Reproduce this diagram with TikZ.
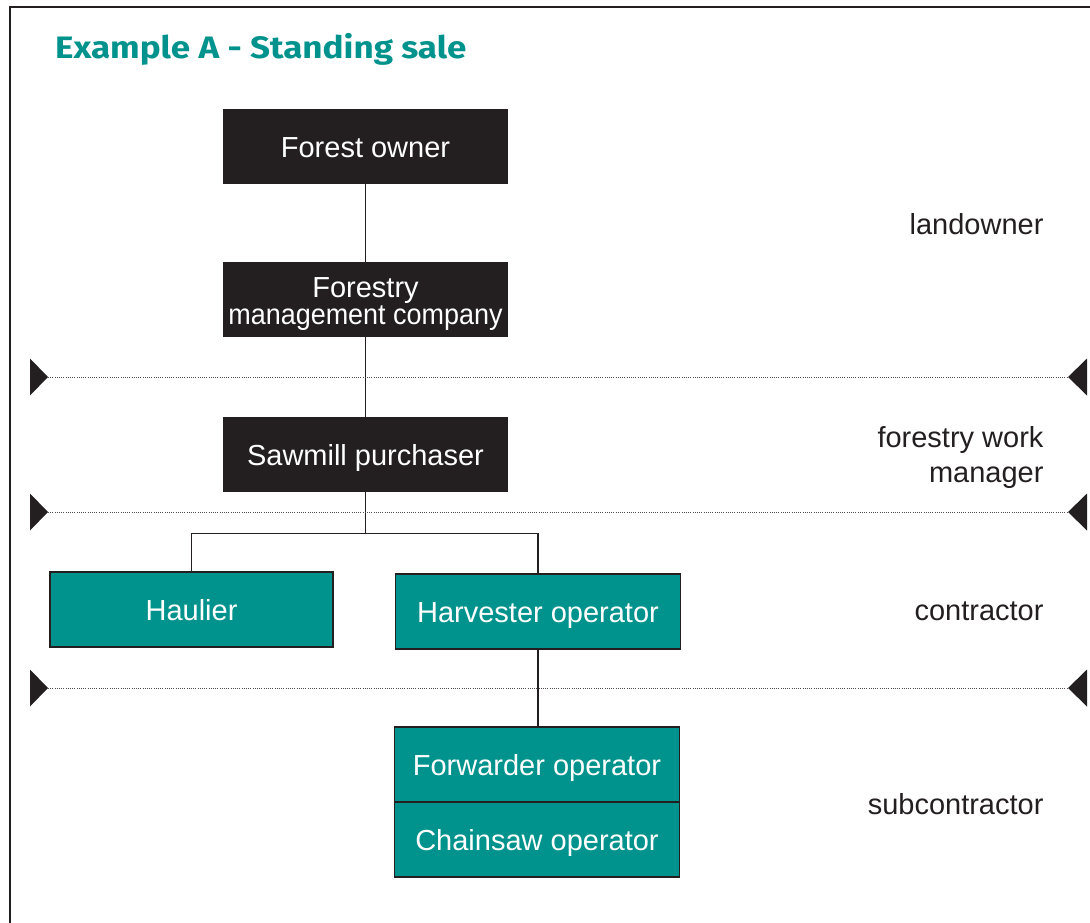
\documentclass[tikz,border=0pt]{standalone}
\usepackage{fontspec}
\setmainfont{Liberation Sans}
\newfontfamily\titlefont{Fira Sans}[FakeStretch=1.13]
\usepackage{graphicx}
\usetikzlibrary{positioning}
\definecolor{forestteal}{RGB}{0,146,140}
\definecolor{boxblack}{RGB}{35,31,32}

\begin{document}
\begin{tikzpicture}[x=1pt, y=-1pt, node distance=150pt, on grid,
    darkbox/.style={fill=boxblack, text=white, minimum width=285pt, minimum height=75pt,
        inner sep=0pt, align=center, text height=21pt, text depth=0pt,
        font=\fontsize{29}{27}\selectfont},
    tealbox/.style={darkbox, fill=forestteal, draw=boxblack, line width=1.3pt},
    tier/.style={anchor=east, align=right, text=boxblack, font=\fontsize{29}{35}\selectfont},
    link/.style={draw=boxblack, line width=1.2pt},
    divider/.style={draw=boxblack!80, line width=0.9pt, dash pattern=on 0.9pt off 1.3pt}]

    \clip (0,0) rectangle (1090,922);

    % FRAME
    \draw[boxblack, line width=2.6pt] (10,930) -- (10,7) -- (1100,7);

    % TITLE
    \node[anchor=base west, inner sep=0pt, text=forestteal,
        font=\titlefont\bfseries\fontsize{31}{30}\selectfont] (title) at (55,58.3) {Example A - Standing sale};

    % BOXES
    \node[darkbox] (owner) at (365.5,146.5) {Forest owner};
    \node[darkbox, text height={}, text depth={}] (mgmt) [below=153pt of owner]
        {\rule{0pt}{29pt}Forestry\\\scalebox{0.93}[1]{management company}};
    \node[darkbox] (sawmill) [below=155pt of mgmt] {Sawmill purchaser};
    \node[tealbox, minimum width=283pt] (haulier) [below left=155pt and 174pt of sawmill] {Haulier};
    \node[tealbox] (harvester) [below right=157pt and 172.5pt of sawmill] {Harvester operator};
    \node[tealbox] (forwarder) [below=153pt of harvester, xshift=-1pt] {Forwarder operator};
    \node[tealbox] (chainsaw) [below=75pt of forwarder] {Chainsaw operator};

    % LINKS
    \path[link] (owner) -- (mgmt) (mgmt) -- (sawmill);
    \coordinate (branch) at ([yshift=-41pt]sawmill.south);
    \draw[link] (sawmill.south) -- (branch);
    \draw[link] (branch) -| (haulier.north);
    \draw[link] (branch) -| (harvester.north);
    \draw[link] (harvester.south) -- (harvester.south |- forwarder.north);

    % DIVIDERS
    \foreach \y in {377,512,688} {
        \coordinate (dl\y) at (48,\y);
        \coordinate (dr\y) at (1068,\y);
        \draw[divider] (dl\y) -- (dr\y);
        \fill[boxblack] (dl\y) -- ++(-18,-18.5) -- ++(0,37) -- cycle;
        \fill[boxblack] (dr\y) -- ++(19,-18.5) -- ++(0,37) -- cycle;
    }

    % TIERS
    \node[tier] (landowner) at (1047,224) {landowner};
    \node[tier] (workmgr) at (1047,457.5) {forestry work\\manager};
    \node[tier] (contractor) at (1047,611) {contractor};
    \node[tier] (subcontractor) at (1047,804) {subcontractor};

\end{tikzpicture}
\end{document}
